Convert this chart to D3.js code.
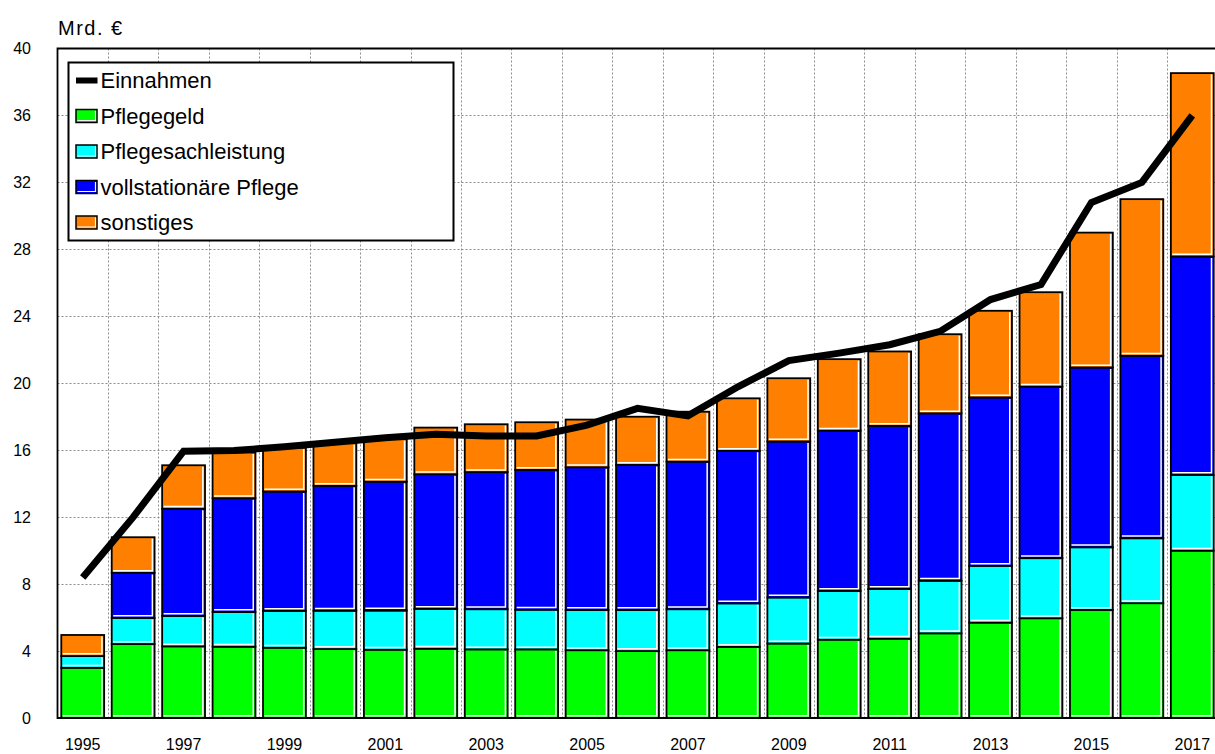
<!DOCTYPE html>
<html>
<head>
<meta charset="utf-8">
<script src="https://cdn.jsdelivr.net/npm/d3@7"></script>
<style>
  body { margin: 0; background: #fff; }
  svg { display: block; font-family: "Liberation Sans", Arial, sans-serif; }
</style>
</head>
<body>
<svg id="chart" width="1215" height="754"></svg>
<script>
// values in Mrd. €
var years = d3.range(1995, 2018);
var pflegegeld = [3.0, 4.42, 4.28, 4.26, 4.2, 4.12, 4.08, 4.14, 4.1, 4.1, 4.05, 4.0, 4.05, 4.25, 4.45, 4.68, 4.74, 5.06, 5.7, 5.96, 6.46, 6.86, 10.0];
var sachleistung = [0.7, 1.56, 1.82, 2.07, 2.2, 2.29, 2.34, 2.38, 2.4, 2.37, 2.4, 2.45, 2.45, 2.6, 2.75, 2.91, 2.97, 3.14, 3.39, 3.59, 3.74, 3.88, 4.52];
var vollstationaer = [0, 2.69, 6.4, 6.8, 7.13, 7.46, 7.7, 8.04, 8.19, 8.35, 8.53, 8.67, 8.82, 9.11, 9.32, 9.58, 9.74, 10.0, 10.06, 10.25, 10.74, 10.9, 13.05];
var sonstiges = [1.26, 2.13, 2.6, 2.73, 2.62, 2.55, 2.54, 2.79, 2.86, 2.85, 2.85, 2.88, 2.98, 3.14, 3.78, 4.27, 4.45, 4.73, 5.18, 5.64, 8.06, 9.36, 10.96];
var einnahmen = [8.4, 12.0, 15.94, 15.98, 16.2, 16.47, 16.75, 16.95, 16.85, 16.85, 17.5, 18.5, 18.05, 19.8, 21.35, 21.8, 22.3, 23.1, 25.0, 25.9, 30.8, 32.0, 36.0];
var yTicks = [0, 4, 8, 12, 16, 20, 24, 28, 32, 36, 40];
var xLabels = years.filter(function(y) { return y % 2 == 1; });

var series = [
  { key: 'pflegegeld', name: 'Pflegegeld', color: '#00ff00' },
  { key: 'sachleistung', name: 'Pflegesachleistung', color: '#00ffff' },
  { key: 'vollstationaer', name: 'vollstationäre Pflege', color: '#0000ff' },
  { key: 'sonstiges', name: 'sonstiges', color: '#ff8000' }
];

var rows = years.map(function(y, i) {
  return { year: y, pflegegeld: pflegegeld[i], sachleistung: sachleistung[i],
           vollstationaer: vollstationaer[i], sonstiges: sonstiges[i], einnahmen: einnahmen[i] };
});

var svg = d3.select('#chart');
var plotL = 57.5, plotR = 1217.5, plotT = 48.5, plotB = 718;

var x = d3.scaleBand().domain(years).range([plotL, plotR])
    .paddingInner(0.15).paddingOuter(0.075);
var y = d3.scaleLinear().domain([0, 40]).range([plotB, plotT]);
var step = x.step();

// grid
var grid = svg.append('g').attr('stroke', '#8c8c8c').attr('stroke-width', 1)
    .attr('stroke-dasharray', '2,2');
grid.selectAll('.hg').data(yTicks.slice(1, -1)).enter().append('line')
    .attr('x1', plotL).attr('x2', plotR)
    .attr('y1', function(d) { return Math.round(y(d)) + 0.5; })
    .attr('y2', function(d) { return Math.round(y(d)) + 0.5; });
grid.selectAll('.vg').data(years.slice(1)).enter().append('line')
    .attr('x1', function(d) { return Math.round(x(d) - step * 0.075) + 0.5; })
    .attr('x2', function(d) { return Math.round(x(d) - step * 0.075) + 0.5; })
    .attr('y1', plotT).attr('y2', plotB);

// stacked bars
var stacked = d3.stack().keys(series.map(function(s) { return s.key; }))(rows);
var bw = x.bandwidth();

stacked.forEach(function(layer, li) {
  var g = svg.append('g');
  var segs = g.selectAll('g').data(layer.filter(function(d) { return d[1] - d[0] > 0; }))
      .enter().append('g');
  segs.append('rect')
      .attr('x', function(d) { return x(d.data.year); })
      .attr('y', function(d) { return y(d[1]); })
      .attr('width', bw)
      .attr('height', function(d) { return y(d[0]) - y(d[1]); })
      .attr('fill', series[li].color)
      .attr('stroke', '#000').attr('stroke-width', 1.8);
  // white inner edge right and bottom
  segs.append('path')
      .attr('d', function(d) {
        var x0 = x(d.data.year) + 1.5, x1 = x(d.data.year) + bw - 2.2;
        var y0 = y(d[1]) + 1.5, y1 = y(d[0]) - 2.2;
        return 'M' + x1 + ',' + y0 + 'L' + x1 + ',' + y1 + 'L' + x0 + ',' + y1;
      })
      .attr('fill', 'none').attr('stroke', '#fff').attr('stroke-width', 1.5);
});

// frame
svg.append('path')
    .attr('d', 'M' + plotR + ',' + plotT + 'L' + plotL + ',' + plotT + 'L' + plotL + ',' + plotB + 'L' + plotR + ',' + plotB)
    .attr('fill', 'none').attr('stroke', '#000').attr('stroke-width', 1.8);

// Einnahmen line
var line = d3.line()
    .x(function(d) { return x(d.year) + bw / 2; })
    .y(function(d) { return y(d.einnahmen); });
svg.append('path').datum(rows)
    .attr('d', line)
    .attr('fill', 'none').attr('stroke', '#000').attr('stroke-width', 7)
    .attr('stroke-linejoin', 'miter');

// y labels
svg.selectAll('.yl').data(yTicks).enter().append('text')
    .attr('x', 31).attr('y', function(d) { return y(d); })
    .attr('dy', '0.36em').attr('text-anchor', 'end')
    .attr('font-size', 16).text(function(d) { return d; });

// x labels
svg.selectAll('.xl').data(xLabels).enter().append('text')
    .attr('x', function(d) { return x(d) + bw / 2; }).attr('y', 750)
    .attr('text-anchor', 'middle').attr('font-size', 16)
    .text(function(d) { return d; });

svg.append('text').attr('x', 58).attr('y', 35).attr('font-size', 20)
    .attr('letter-spacing', 1.5).text('Mrd. €');

// legend
var lg = svg.append('g');
lg.append('rect').attr('x', 68.5).attr('y', 62.5).attr('width', 385).attr('height', 178)
    .attr('fill', '#fff').attr('stroke', '#000').attr('stroke-width', 2);
var legendItems = [{ name: 'Einnahmen', line: true }].concat(series);
var items = lg.selectAll('.li').data(legendItems).enter().append('g')
    .attr('transform', function(d, i) { return 'translate(0,' + (80.5 + i * 35.5) + ')'; });
items.each(function(d) {
  var g = d3.select(this);
  if (d.line) {
    g.append('rect').attr('x', 76).attr('y', -3).attr('width', 21.5).attr('height', 6).attr('fill', '#000');
  } else {
    g.append('rect').attr('x', 76).attr('y', -6.5).attr('width', 21).attr('height', 13)
        .attr('fill', d.color).attr('stroke', '#000').attr('stroke-width', 1.5);
    g.append('path').attr('d', 'M95.5,-5 L95.5,4.5 L77.5,4.5')
        .attr('fill', 'none').attr('stroke', '#fff').attr('stroke-width', 1.2);
  }
});
items.append('text').attr('x', 100.5).attr('dy', '0.36em').attr('font-size', 22)
    .text(function(d) { return d.name; });
</script>
</body>
</html>
